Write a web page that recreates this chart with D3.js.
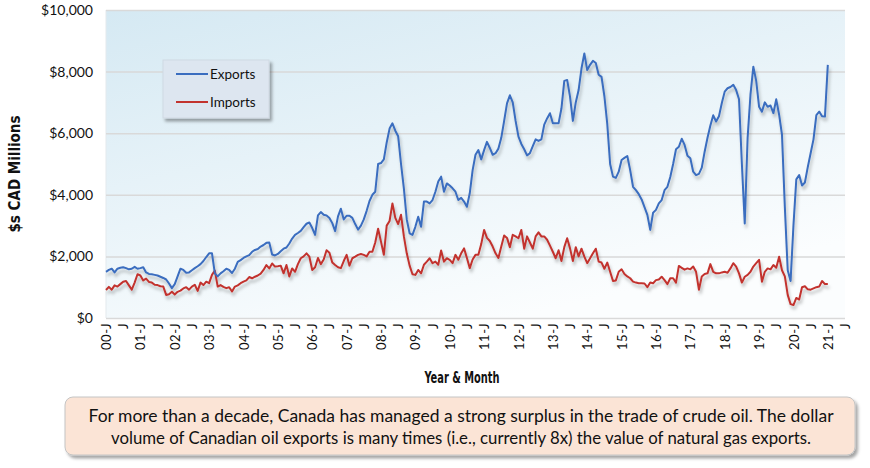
<!DOCTYPE html>
<html><head><meta charset="utf-8">
<script src="https://cdn.jsdelivr.net/npm/d3@7"></script>
<style>body{margin:0;background:#fff;} svg{display:block;}</style>
</head><body>
<svg id="chart" width="870" height="468"></svg>
<script>
// ---- DATA (monthly, starting Jan 2000, $ CAD millions) ----
const exportsData = [
1500,1560,1600,1480,1600,1630,1650,1620,1580,1600,1660,1600,
1620,1650,1480,1430,1420,1400,1380,1340,1300,1250,1120,970,
1100,1350,1600,1560,1470,1480,1550,1620,1680,1750,1850,1980,
2100,2100,1450,1350,1450,1520,1600,1560,1460,1600,1820,1880,
1950,2000,2040,2150,2210,2240,2320,2370,2440,2450,2060,2030,
2080,2170,2250,2290,2420,2580,2700,2760,2830,2950,3060,3100,
2920,2700,3330,3440,3350,3330,3250,3080,2820,3300,3550,3200,
3320,3320,3250,3050,2870,3000,3200,3480,3800,4000,4100,5000,
5030,5150,5700,6150,6320,6080,5900,5000,4200,3200,2750,2700,
2960,3290,2960,3780,3780,3720,3830,4100,4430,4590,4100,4370,
4300,4210,4100,3830,3900,3780,3610,4050,4800,5300,5450,5150,
5450,5720,5520,5300,5350,5500,5850,6400,6970,7230,7000,6400,
5890,5650,5480,5280,5350,5580,5800,5750,5800,6280,6480,6650,
6320,6320,6320,6800,7700,7730,7190,6400,7000,7400,8100,8590,
8050,8220,8350,8280,7900,7830,7200,6300,5000,4590,4550,4750,
5130,5200,5260,4800,4260,4150,4020,3850,3600,3350,2860,3420,
3510,3720,3830,4150,4260,4580,5000,5480,5560,5820,5620,5270,
5190,4750,4640,4680,4880,5400,5850,6250,6580,6380,6550,6980,
7350,7460,7500,7570,7400,7100,5000,3070,5850,7250,8160,7700,
6860,6700,7000,6860,6900,6650,7100,6600,5950,3600,1550,1200,
3000,4500,4640,4300,4400,4900,5350,5800,6590,6700,6550,6540,
8220
];
const importsData = [
910,1010,920,1060,1020,1100,1180,1200,1060,920,1150,1420,
1380,1220,1280,1170,1150,1080,1070,1030,1020,750,770,850,
760,850,890,960,1000,920,1020,1080,880,1150,1070,1180,
1130,1400,1540,1020,1070,1010,970,1000,860,1020,1060,1130,
1180,1220,1330,1290,1340,1380,1440,1560,1720,1610,1770,1670,
1680,1700,1450,1720,1350,1610,1500,1750,1940,2000,2100,1990,
1560,1650,1950,1750,1900,2200,2120,1800,1720,1650,1620,1850,
2050,1700,1940,1990,2050,2080,2050,2000,2150,2150,2450,2900,
2480,2050,3000,3150,3720,3250,3050,3350,2650,2100,1700,1420,
1400,1560,1450,1730,1830,1940,1780,1830,1730,2190,1830,1940,
1890,1780,2050,1890,2100,2260,1950,1620,1900,2050,2050,2400,
2860,2600,2500,2320,2100,1950,2320,2680,2600,2300,2700,2650,
2590,2860,2250,2650,2450,2250,2650,2780,2650,2650,2540,2350,
2150,1940,2200,1850,2300,2590,2260,1850,2300,2000,2250,1990,
1780,1940,2100,2250,1830,1800,1600,1800,1500,1200,1220,1500,
1580,1430,1350,1290,1180,1150,1130,1130,1120,1000,1150,1130,
1230,1250,1340,1230,1100,1290,1290,1150,1690,1630,1570,1610,
1580,1670,1500,920,1350,1430,1450,1750,1500,1450,1450,1480,
1500,1470,1610,1780,1670,1450,1150,1340,1400,1500,1670,1780,
1890,1180,1500,1610,1580,1720,1630,1990,1550,1350,750,450,
420,650,600,1000,1030,930,920,960,1000,1020,1200,1100,
1100
];
const seriesNames = ["Exports","Imports"];
const yTickValues = [0,2000,4000,6000,8000,10000];
const xTickLabels = ["00-J","J","01-J","J","02-J","J","03-J","J","04-J","J","05-J","J","06-J","J","07-J","J",
  "08-J","J","09-J","J","10-J","J","11-J","J","12-J","J","13-J","J","14-J","J","15-J","J","16-J","J","17-J","J",
  "18-J","J","19-J","J","20-J","J","21-J","J"];
const monthsOnAxis = 258; // Jan 2000 .. Jul 2021
const yTitle = "$s CAD Millions";
const xTitle = "Year & Month";
const captionLines = [
  "For more than a decade, Canada has managed a strong surplus in the trade of crude oil. The dollar",
  "volume of Canadian oil exports is many times (i.e., currently 8x) the value of natural gas exports."
];

// ---- STYLE / LAYOUT ----
const colors = {Exports:"#3a6dbf", Imports:"#c2332e"};
const pL=106, pR=845, pT=10, pB=318;

const svg = d3.select("#chart");
const defs = svg.append("defs");
const grad = defs.append("linearGradient").attr("id","bg")
  .attr("x1","0").attr("y1","0").attr("x2","0.55").attr("y2","1");
grad.append("stop").attr("offset","0").attr("stop-color","#d5e9f3");
grad.append("stop").attr("offset","1").attr("stop-color","#fbfdfe");

const ls = defs.append("filter").attr("id","lineShadow")
  .attr("x","-5%").attr("y","-10%").attr("width","110%").attr("height","140%");
ls.append("feDropShadow").attr("dx",1.5).attr("dy",3.5).attr("stdDeviation",1.8)
  .attr("flood-color","#000").attr("flood-opacity",0.25);

const bs = defs.append("filter").attr("id","boxShadow")
  .attr("x","-10%").attr("y","-20%").attr("width","125%").attr("height","150%");
bs.append("feDropShadow").attr("dx",2.5).attr("dy",3).attr("stdDeviation",1.8)
  .attr("flood-color","#000").attr("flood-opacity",0.35);

const x = d3.scaleLinear().domain([0, monthsOnAxis]).range([pL, pR]);
const y = d3.scaleLinear().domain([0, 10000]).range([pB, pT]);

// plot background
svg.append("rect").attr("x",pL).attr("y",pT).attr("width",pR-pL).attr("height",pB-pT)
  .attr("fill","url(#bg)");
svg.append("line").attr("x1",pL).attr("x2",pL).attr("y1",pT).attr("y2",pB)
  .attr("stroke","#e3e9ed").attr("stroke-width",1);

// y axis + gridlines
const yAxis = d3.axisLeft(y).tickValues(yTickValues).tickSize(-(pR-pL)).tickPadding(13)
  .tickFormat(d => "$" + d3.format(",")(d));
const gy = svg.append("g").attr("transform",`translate(${pL},0)`).call(yAxis);
gy.select(".domain").remove();
gy.selectAll(".tick line").attr("stroke","#d9d9d9").attr("stroke-width",1.5);
gy.selectAll(".tick text").attr("font-family","Lato, 'Open Sans', sans-serif")
  .attr("font-size",14).attr("fill","#111");

// x axis
const xTickVals = d3.range(0, monthsOnAxis+1, 6);
const xAxis = d3.axisBottom(x).tickValues(xTickVals).tickSize(0).tickFormat((d,i)=>xTickLabels[i]);
const gx = svg.append("g").attr("transform",`translate(0,${pB})`).call(xAxis);
gx.select(".domain").remove();
gx.selectAll(".tick text")
  .attr("font-family","Lato, 'Open Sans', sans-serif").attr("font-size",13).attr("fill","#111")
  .attr("letter-spacing","0.6px")
  .attr("transform","rotate(-90)").attr("text-anchor","end")
  .attr("x",-5).attr("y",0).attr("dy","0.35em");

// lines
const line = d3.line().x((d,i)=>x(i)).y(d=>y(d));
const gLines = svg.append("g").attr("filter","url(#lineShadow)");
gLines.append("path").datum(importsData).attr("d",line).attr("fill","none")
  .attr("stroke",colors.Imports).attr("stroke-width",2).attr("stroke-linejoin","round");
gLines.append("path").datum(exportsData).attr("d",line).attr("fill","none")
  .attr("stroke",colors.Exports).attr("stroke-width",2).attr("stroke-linejoin","round");

// legend
const lg = svg.append("g");
lg.append("rect").attr("x",163).attr("y",60).attr("width",106).attr("height",58)
  .attr("fill","#dde6f0").attr("stroke","#d0d9e3").attr("filter","url(#boxShadow)");
seriesNames.forEach((name,i)=>{
  const yy = 74 + i*28;
  lg.append("line").attr("x1",176).attr("x2",208).attr("y1",yy).attr("y2",yy)
    .attr("stroke",colors[name]).attr("stroke-width",2);
  lg.append("text").attr("x",210).attr("y",yy).attr("dy","0.35em")
    .attr("font-family","Lato, 'Open Sans', sans-serif").attr("font-size",13.5).attr("fill","#111")
    .text(name);
});

// axis titles
svg.append("text").attr("transform","translate(14,174) rotate(-90)")
  .attr("text-anchor","middle").attr("dy","0.35em")
  .attr("font-family","'DejaVu Sans Condensed', 'DejaVu Sans', sans-serif").attr("font-weight","bold")
  .attr("font-size",16.5).attr("fill","#111")
  .attr("textLength",117).attr("lengthAdjust","spacingAndGlyphs").text(yTitle);
svg.append("text").attr("x",462).attr("y",378).attr("text-anchor","middle").attr("dy","0.35em")
  .attr("font-family","'DejaVu Sans Condensed', 'DejaVu Sans', sans-serif").attr("font-weight","bold")
  .attr("font-size",15.5).attr("fill","#111")
  .attr("textLength",75).attr("lengthAdjust","spacingAndGlyphs").text(xTitle);

// caption box
svg.append("rect").attr("x",65).attr("y",397).attr("width",790).attr("height",58).attr("rx",8)
  .attr("fill","#fbe4d6").attr("stroke","#c4c4c4").attr("stroke-width",1)
  .attr("filter","url(#boxShadow)");
const capLens = [745, 700];
captionLines.forEach((t,i)=>{
  svg.append("text").attr("x",461).attr("y",416 + i*22).attr("dy","0.35em")
    .attr("text-anchor","middle")
    .attr("font-family","Lato, 'Open Sans', sans-serif").attr("font-size",16.5).attr("fill","#111")
    .attr("textLength",capLens[i]).attr("lengthAdjust","spacingAndGlyphs").text(t);
});
</script>
</body></html>
